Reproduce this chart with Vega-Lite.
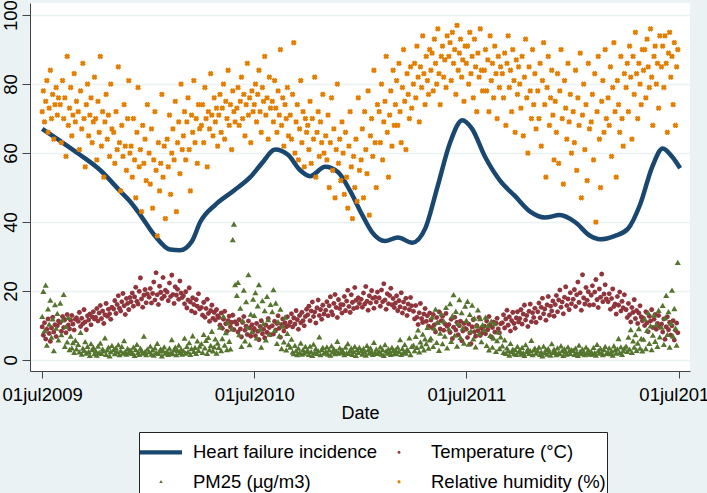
{
"$schema":"https://vega.github.io/schema/vega-lite/v6.json",
"width":660,"height":368,
"autosize":{"type":"none"},
"padding":{"left":30,"top":3,"right":17,"bottom":122},
"background":"#EAF2F3",
"config":{"font":"Liberation Sans","view":{"fill":"white","stroke":null},
 "legend":{"orient":"none","legendX":109,"legendY":429,"columns":2,"titleFontSize":10,"titlePadding":0,"padding":1,"clipHeight":18.5,
    "fillColor":"white","strokeColor":"#222","rowPadding":10.5,"columnPadding":0,"symbolSize":1764,"symbolStrokeWidth":0,"symbolOffset":0,"labelOffset":11,
    "labelFontSize":18.5,"labelColor":"#000","labelLimit":400}},
"datasets":{
"hf":[
{"d":"2009-07-01","v":67},{"d":"2009-08-01","v":63.5},{"d":"2009-09-04","v":59.5},{"d":"2009-10-09","v":55},{"d":"2009-11-12","v":49},{"d":"2009-11-29","v":46},{"d":"2009-12-17","v":42},{"d":"2010-01-11","v":36},{"d":"2010-02-06","v":32},{"d":"2010-02-23","v":31.8},{"d":"2010-03-16","v":34.5},{"d":"2010-03-30","v":40},{"d":"2010-04-25","v":45},{"d":"2010-05-26","v":49},{"d":"2010-06-24","v":53},{"d":"2010-07-14","v":57},{"d":"2010-08-06","v":61},{"d":"2010-08-28","v":59.5},{"d":"2010-09-18","v":55},{"d":"2010-10-05","v":53.3},{"d":"2010-10-31","v":56},{"d":"2010-11-22","v":54.5},{"d":"2010-12-13","v":49},{"d":"2011-01-03","v":42},{"d":"2011-01-20","v":37},{"d":"2011-02-11","v":34.5},{"d":"2011-03-05","v":35.5},{"d":"2011-03-30","v":34},{"d":"2011-04-21","v":38},{"d":"2011-05-12","v":50},{"d":"2011-06-03","v":63},{"d":"2011-06-24","v":69.5},{"d":"2011-07-11","v":67},{"d":"2011-08-02","v":59},{"d":"2011-08-28","v":52},{"d":"2011-09-23","v":47.5},{"d":"2011-10-19","v":43},{"d":"2011-11-13","v":41.3},{"d":"2011-12-09","v":42},{"d":"2012-01-04","v":40},{"d":"2012-01-30","v":36},{"d":"2012-02-16","v":35},{"d":"2012-03-13","v":36},{"d":"2012-04-04","v":38},{"d":"2012-04-25","v":45},{"d":"2012-05-16","v":56},{"d":"2012-06-03","v":61.3},{"d":"2012-06-19","v":59},{"d":"2012-07-03","v":55.6}
],
"obs":[
{"d":"2009-07-01","t":9.6,"p":12.5,"h":72},{"d":"2009-07-03","t":7.2,"p":19.8,"h":78},{"d":"2009-07-05","t":10.8,"p":8.4,"h":69},{"d":"2009-07-07","t":6.1,"p":21.6,"h":75},{"d":"2009-07-09","t":8.9,"p":4.2,"h":81},{"d":"2009-07-11","t":11.9,"p":14.7,"h":66},{"d":"2009-07-13","t":7.7,"p":10.3,"h":73},{"d":"2009-07-15","t":5.4,"p":17.2,"h":84},{"d":"2009-07-17","t":9.3,"p":6.5,"h":70},{"d":"2009-07-19","t":12.4,"p":11.8,"h":77},{"d":"2009-07-21","t":8.1,"p":2.6,"h":64},{"d":"2009-07-23","t":10.2,"p":15.9,"h":74},{"d":"2009-07-25","t":6.8,"p":9.1,"h":79},{"d":"2009-07-27","t":9.9,"p":13.4,"h":71},{"d":"2009-07-29","t":11.3,"p":5.7,"h":76},
{"d":"2009-08-01","t":10.9,"p":16.4,"h":74},{"d":"2009-08-03","t":8.3,"p":7.2,"h":63},{"d":"2009-08-05","t":12.6,"p":11.5,"h":81},{"d":"2009-08-07","t":9.4,"p":18.9,"h":70},{"d":"2009-08-09","t":11.7,"p":3.8,"h":76},{"d":"2009-08-11","t":7.9,"p":9.6,"h":59},{"d":"2009-08-13","t":13.2,"p":5.1,"h":88},{"d":"2009-08-15","t":10.1,"p":12.2,"h":68},{"d":"2009-08-17","t":9.0,"p":2.9,"h":73},{"d":"2009-08-19","t":11.5,"p":6.8,"h":79},{"d":"2009-08-21","t":12.9,"p":3.4,"h":65},{"d":"2009-08-23","t":10.4,"p":4.9,"h":71},{"d":"2009-08-25","t":8.7,"p":2.1,"h":83},{"d":"2009-08-27","t":11.8,"p":5.6,"h":69},{"d":"2009-08-29","t":12.2,"p":3.1,"h":75},
{"d":"2009-09-01","t":11.2,"p":4.4,"h":72},{"d":"2009-09-03","t":13.8,"p":2.2,"h":61},{"d":"2009-09-05","t":9.7,"p":7.9,"h":78},{"d":"2009-09-07","t":12.1,"p":1.6,"h":67},{"d":"2009-09-09","t":10.5,"p":3.3,"h":86},{"d":"2009-09-11","t":14.6,"p":2.7,"h":70},{"d":"2009-09-13","t":11.0,"p":5.2,"h":56},{"d":"2009-09-15","t":8.8,"p":1.9,"h":74},{"d":"2009-09-17","t":12.8,"p":3.8,"h":80},{"d":"2009-09-19","t":11.6,"p":2.4,"h":65},{"d":"2009-09-21","t":13.3,"p":1.2,"h":71},{"d":"2009-09-23","t":10.2,"p":4.6,"h":76},{"d":"2009-09-25","t":12.5,"p":2.9,"h":63},{"d":"2009-09-27","t":14.0,"p":3.5,"h":69},{"d":"2009-09-29","t":11.9,"p":1.7,"h":82},
{"d":"2009-10-01","t":12.4,"p":2.6,"h":70},{"d":"2009-10-03","t":14.9,"p":1.3,"h":58},{"d":"2009-10-05","t":11.3,"p":3.9,"h":75},{"d":"2009-10-07","t":13.6,"p":2.1,"h":66},{"d":"2009-10-09","t":15.8,"p":4.8,"h":88},{"d":"2009-10-11","t":12.0,"p":1.8,"h":62},{"d":"2009-10-13","t":14.2,"p":3.1,"h":72},{"d":"2009-10-15","t":10.6,"p":2.5,"h":53},{"d":"2009-10-17","t":13.1,"p":6.3,"h":69},{"d":"2009-10-19","t":16.4,"p":1.5,"h":77},{"d":"2009-10-21","t":12.7,"p":2.8,"h":64},{"d":"2009-10-23","t":14.7,"p":3.6,"h":71},{"d":"2009-10-25","t":13.4,"p":1.1,"h":59},{"d":"2009-10-27","t":11.8,"p":2.3,"h":80},{"d":"2009-10-29","t":15.3,"p":4.1,"h":67},
{"d":"2009-11-01","t":14.8,"p":2.9,"h":66},{"d":"2009-11-03","t":17.2,"p":1.7,"h":57},{"d":"2009-11-05","t":13.5,"p":3.4,"h":72},{"d":"2009-11-07","t":16.1,"p":2.2,"h":61},{"d":"2009-11-09","t":18.6,"p":4.3,"h":85},{"d":"2009-11-11","t":15.0,"p":1.4,"h":63},{"d":"2009-11-13","t":14.2,"p":2.6,"h":49},{"d":"2009-11-15","t":16.9,"p":3.8,"h":68},{"d":"2009-11-17","t":19.3,"p":1.9,"h":59},{"d":"2009-11-19","t":15.7,"p":5.5,"h":74},{"d":"2009-11-21","t":13.2,"p":2.4,"h":62},{"d":"2009-11-23","t":17.8,"p":1.6,"h":55},{"d":"2009-11-25","t":16.4,"p":3.2,"h":70},{"d":"2009-11-27","t":14.6,"p":2.0,"h":81},{"d":"2009-11-29","t":18.1,"p":2.8,"h":60},
{"d":"2009-12-01","t":16.9,"p":2.5,"h":62},{"d":"2009-12-03","t":19.4,"p":1.8,"h":53},{"d":"2009-12-05","t":15.6,"p":3.6,"h":70},{"d":"2009-12-07","t":18.3,"p":1.2,"h":58},{"d":"2009-12-09","t":21.1,"p":2.9,"h":47},{"d":"2009-12-11","t":17.0,"p":4.4,"h":66},{"d":"2009-12-13","t":16.2,"p":2.1,"h":79},{"d":"2009-12-15","t":19.9,"p":1.5,"h":56},{"d":"2009-12-17","t":23.8,"p":3.3,"h":61},{"d":"2009-12-19","t":17.7,"p":2.7,"h":43},{"d":"2009-12-21","t":15.3,"p":1.9,"h":68},{"d":"2009-12-23","t":18.8,"p":6.8,"h":57},{"d":"2009-12-25","t":20.4,"p":2.3,"h":64},{"d":"2009-12-27","t":16.6,"p":1.4,"h":52},{"d":"2009-12-29","t":19.1,"p":3.0,"h":74},
{"d":"2010-01-01","t":18.2,"p":2.2,"h":60},{"d":"2010-01-03","t":20.7,"p":3.9,"h":51},{"d":"2010-01-05","t":16.5,"p":1.6,"h":67},{"d":"2010-01-07","t":19.3,"p":2.8,"h":44},{"d":"2010-01-09","t":22.6,"p":1.3,"h":58},{"d":"2010-01-11","t":17.4,"p":3.4,"h":72},{"d":"2010-01-13","t":25.3,"p":2.0,"h":55},{"d":"2010-01-15","t":18.9,"p":4.7,"h":36},{"d":"2010-01-17","t":16.1,"p":1.8,"h":63},{"d":"2010-01-19","t":21.4,"p":2.5,"h":49},{"d":"2010-01-21","t":19.6,"p":3.1,"h":57},{"d":"2010-01-23","t":17.8,"p":1.1,"h":77},{"d":"2010-01-25","t":23.9,"p":2.6,"h":53},{"d":"2010-01-27","t":18.5,"p":3.7,"h":62},{"d":"2010-01-29","t":20.2,"p":1.9,"h":41},
{"d":"2010-02-01","t":19.7,"p":2.4,"h":64},{"d":"2010-02-03","t":17.2,"p":1.5,"h":56},{"d":"2010-02-05","t":22.3,"p":3.3,"h":71},{"d":"2010-02-07","t":18.4,"p":2.1,"h":48},{"d":"2010-02-09","t":24.6,"p":5.8,"h":60},{"d":"2010-02-11","t":19.0,"p":1.7,"h":67},{"d":"2010-02-13","t":16.4,"p":2.9,"h":58},{"d":"2010-02-15","t":21.2,"p":3.6,"h":75},{"d":"2010-02-17","t":18.8,"p":1.4,"h":43},{"d":"2010-02-19","t":20.5,"p":2.7,"h":63},{"d":"2010-02-21","t":17.6,"p":4.2,"h":69},{"d":"2010-02-23","t":22.9,"p":2.0,"h":54},{"d":"2010-02-25","t":19.4,"p":3.0,"h":80},{"d":"2010-02-27","t":18.1,"p":1.6,"h":61},
{"d":"2010-03-01","t":18.6,"p":2.6,"h":65},{"d":"2010-03-03","t":16.3,"p":6.2,"h":72},{"d":"2010-03-05","t":19.8,"p":1.9,"h":58},{"d":"2010-03-07","t":15.1,"p":3.8,"h":69},{"d":"2010-03-09","t":17.4,"p":2.3,"h":76},{"d":"2010-03-11","t":20.9,"p":4.9,"h":61},{"d":"2010-03-13","t":16.8,"p":1.5,"h":49},{"d":"2010-03-15","t":14.2,"p":3.2,"h":71},{"d":"2010-03-17","t":18.0,"p":6.9,"h":66},{"d":"2010-03-19","t":16.1,"p":2.4,"h":81},{"d":"2010-03-21","t":13.7,"p":3.5,"h":63},{"d":"2010-03-23","t":17.5,"p":1.8,"h":70},{"d":"2010-03-25","t":15.6,"p":5.4,"h":57},{"d":"2010-03-27","t":19.2,"p":2.7,"h":74},{"d":"2010-03-29","t":14.8,"p":3.9,"h":67},
{"d":"2010-04-01","t":15.2,"p":4.6,"h":68},{"d":"2010-04-03","t":13.0,"p":2.1,"h":74},{"d":"2010-04-05","t":16.7,"p":7.3,"h":63},{"d":"2010-04-07","t":12.4,"p":3.4,"h":79},{"d":"2010-04-09","t":14.9,"p":5.6,"h":70},{"d":"2010-04-11","t":17.6,"p":1.8,"h":56},{"d":"2010-04-13","t":13.5,"p":6.4,"h":72},{"d":"2010-04-15","t":11.2,"p":2.9,"h":67},{"d":"2010-04-17","t":14.3,"p":4.1,"h":83},{"d":"2010-04-19","t":15.9,"p":8.2,"h":71},{"d":"2010-04-21","t":12.1,"p":2.5,"h":65},{"d":"2010-04-23","t":13.8,"p":3.7,"h":76},{"d":"2010-04-25","t":11.6,"p":6.0,"h":69},{"d":"2010-04-27","t":14.6,"p":1.9,"h":73},{"d":"2010-04-29","t":12.8,"p":4.8,"h":62},
{"d":"2010-05-01","t":12.3,"p":3.5,"h":71},{"d":"2010-05-03","t":10.1,"p":9.4,"h":77},{"d":"2010-05-05","t":13.6,"p":2.6,"h":66},{"d":"2010-05-07","t":9.2,"p":6.1,"h":73},{"d":"2010-05-09","t":11.8,"p":12.6,"h":80},{"d":"2010-05-11","t":14.1,"p":4.2,"h":64},{"d":"2010-05-13","t":10.5,"p":7.8,"h":75},{"d":"2010-05-15","t":8.3,"p":2.9,"h":70},{"d":"2010-05-17","t":11.4,"p":10.7,"h":84},{"d":"2010-05-19","t":12.7,"p":5.3,"h":68},{"d":"2010-05-21","t":9.6,"p":3.1,"h":74},{"d":"2010-05-23","t":10.9,"p":8.9,"h":61},{"d":"2010-05-25","t":13.0,"p":34.8,"h":78},{"d":"2010-05-27","t":8.8,"p":39.3,"h":72},{"d":"2010-05-29","t":11.1,"p":21.7,"h":69},
{"d":"2010-06-01","t":10.4,"p":18.6,"h":73},{"d":"2010-06-03","t":8.1,"p":22.4,"h":79},{"d":"2010-06-05","t":11.7,"p":7.2,"h":68},{"d":"2010-06-07","t":9.0,"p":14.9,"h":75},{"d":"2010-06-09","t":6.7,"p":3.8,"h":82},{"d":"2010-06-11","t":10.9,"p":11.3,"h":70},{"d":"2010-06-13","t":12.6,"p":20.1,"h":77},{"d":"2010-06-15","t":8.6,"p":5.4,"h":65},{"d":"2010-06-17","t":9.8,"p":16.8,"h":74},{"d":"2010-06-19","t":7.4,"p":9.5,"h":86},{"d":"2010-06-21","t":11.3,"p":24.6,"h":71},{"d":"2010-06-23","t":9.3,"p":4.3,"h":76},{"d":"2010-06-25","t":6.9,"p":13.2,"h":63},{"d":"2010-06-27","t":10.2,"p":8.1,"h":78},{"d":"2010-06-29","t":8.4,"p":17.5,"h":72},
{"d":"2010-07-01","t":9.1,"p":12.8,"h":74},{"d":"2010-07-03","t":7.0,"p":19.4,"h":80},{"d":"2010-07-05","t":10.6,"p":6.3,"h":69},{"d":"2010-07-07","t":8.3,"p":15.6,"h":77},{"d":"2010-07-09","t":5.9,"p":21.7,"h":84},{"d":"2010-07-11","t":9.7,"p":8.8,"h":72},{"d":"2010-07-13","t":11.4,"p":3.6,"h":66},{"d":"2010-07-15","t":7.6,"p":17.1,"h":79},{"d":"2010-07-17","t":8.9,"p":10.4,"h":75},{"d":"2010-07-19","t":6.4,"p":14.2,"h":88},{"d":"2010-07-21","t":10.1,"p":5.7,"h":71},{"d":"2010-07-23","t":8.0,"p":18.3,"h":76},{"d":"2010-07-25","t":12.0,"p":11.6,"h":64},{"d":"2010-07-27","t":9.4,"p":7.4,"h":82},{"d":"2010-07-29","t":7.3,"p":16.0,"h":73},
{"d":"2010-08-01","t":9.9,"p":13.9,"h":75},{"d":"2010-08-03","t":7.5,"p":20.3,"h":69},{"d":"2010-08-05","t":11.2,"p":8.5,"h":81},{"d":"2010-08-07","t":8.7,"p":16.4,"h":73},{"d":"2010-08-09","t":10.6,"p":4.7,"h":66},{"d":"2010-08-11","t":12.8,"p":11.0,"h":78},{"d":"2010-08-13","t":9.2,"p":6.9,"h":71},{"d":"2010-08-15","t":6.6,"p":14.6,"h":90},{"d":"2010-08-17","t":10.3,"p":3.2,"h":68},{"d":"2010-08-19","t":11.9,"p":9.7,"h":76},{"d":"2010-08-21","t":8.4,"p":5.1,"h":62},{"d":"2010-08-23","t":10.8,"p":12.3,"h":74},{"d":"2010-08-25","t":9.6,"p":2.8,"h":70},{"d":"2010-08-27","t":12.5,"p":7.6,"h":79},{"d":"2010-08-29","t":10.0,"p":4.4,"h":65},
{"d":"2010-09-01","t":11.0,"p":3.6,"h":71},{"d":"2010-09-03","t":13.4,"p":5.9,"h":64},{"d":"2010-09-05","t":9.6,"p":2.2,"h":77},{"d":"2010-09-07","t":12.2,"p":1.7,"h":92},{"d":"2010-09-09","t":10.4,"p":4.1,"h":60},{"d":"2010-09-11","t":14.3,"p":2.6,"h":69},{"d":"2010-09-13","t":11.7,"p":1.4,"h":74},{"d":"2010-09-15","t":8.9,"p":3.3,"h":58},{"d":"2010-09-17","t":12.9,"p":2.0,"h":67},{"d":"2010-09-19","t":10.8,"p":4.8,"h":81},{"d":"2010-09-21","t":13.8,"p":1.6,"h":63},{"d":"2010-09-23","t":11.4,"p":2.9,"h":72},{"d":"2010-09-25","t":9.9,"p":1.9,"h":56},{"d":"2010-09-27","t":12.6,"p":3.8,"h":70},{"d":"2010-09-29","t":14.7,"p":2.4,"h":66},
{"d":"2010-10-01","t":13.1,"p":2.7,"h":68},{"d":"2010-10-03","t":15.6,"p":1.5,"h":61},{"d":"2010-10-05","t":11.4,"p":3.9,"h":75},{"d":"2010-10-07","t":14.2,"p":2.3,"h":57},{"d":"2010-10-09","t":16.8,"p":1.2,"h":70},{"d":"2010-10-11","t":12.6,"p":4.5,"h":64},{"d":"2010-10-13","t":13.9,"p":2.1,"h":82},{"d":"2010-10-15","t":10.7,"p":3.2,"h":53},{"d":"2010-10-17","t":15.1,"p":1.8,"h":66},{"d":"2010-10-19","t":17.4,"p":2.6,"h":72},{"d":"2010-10-21","t":12.9,"p":6.6,"h":59},{"d":"2010-10-23","t":14.6,"p":1.4,"h":69},{"d":"2010-10-25","t":11.8,"p":2.9,"h":63},{"d":"2010-10-27","t":15.9,"p":3.5,"h":77},{"d":"2010-10-29","t":13.3,"p":1.9,"h":60},
{"d":"2010-11-01","t":14.4,"p":2.4,"h":65},{"d":"2010-11-03","t":16.9,"p":3.7,"h":58},{"d":"2010-11-05","t":12.8,"p":1.6,"h":71},{"d":"2010-11-07","t":15.7,"p":2.8,"h":50},{"d":"2010-11-09","t":18.3,"p":1.3,"h":63},{"d":"2010-11-11","t":14.0,"p":4.0,"h":76},{"d":"2010-11-13","t":13.1,"p":2.2,"h":55},{"d":"2010-11-15","t":16.4,"p":3.1,"h":67},{"d":"2010-11-17","t":19.0,"p":1.7,"h":47},{"d":"2010-11-19","t":15.2,"p":2.5,"h":61},{"d":"2010-11-21","t":12.3,"p":5.3,"h":80},{"d":"2010-11-23","t":17.5,"p":1.9,"h":57},{"d":"2010-11-25","t":14.9,"p":3.4,"h":64},{"d":"2010-11-27","t":16.1,"p":2.0,"h":52},{"d":"2010-11-29","t":13.6,"p":2.9,"h":69},
{"d":"2010-12-01","t":16.0,"p":2.3,"h":60},{"d":"2010-12-03","t":18.4,"p":1.4,"h":48},{"d":"2010-12-05","t":14.3,"p":3.6,"h":66},{"d":"2010-12-07","t":17.1,"p":2.0,"h":53},{"d":"2010-12-09","t":20.2,"p":4.6,"h":44},{"d":"2010-12-11","t":15.5,"p":1.8,"h":62},{"d":"2010-12-13","t":13.8,"p":2.7,"h":72},{"d":"2010-12-15","t":18.9,"p":3.3,"h":56},{"d":"2010-12-17","t":16.7,"p":1.5,"h":41},{"d":"2010-12-19","t":14.9,"p":2.4,"h":59},{"d":"2010-12-21","t":21.0,"p":3.8,"h":50},{"d":"2010-12-23","t":17.3,"p":1.2,"h":64},{"d":"2010-12-25","t":15.2,"p":2.9,"h":46},{"d":"2010-12-27","t":18.0,"p":2.1,"h":76},{"d":"2010-12-29","t":16.4,"p":3.5,"h":55},
{"d":"2011-01-01","t":17.6,"p":2.6,"h":58},{"d":"2011-01-03","t":15.3,"p":1.6,"h":67},{"d":"2011-01-05","t":19.4,"p":3.2,"h":47},{"d":"2011-01-07","t":16.2,"p":2.2,"h":72},{"d":"2011-01-09","t":21.3,"p":1.3,"h":61},{"d":"2011-01-11","t":17.0,"p":4.1,"h":54},{"d":"2011-01-13","t":14.4,"p":2.8,"h":78},{"d":"2011-01-15","t":18.6,"p":1.9,"h":42},{"d":"2011-01-17","t":16.5,"p":3.4,"h":65},{"d":"2011-01-19","t":20.1,"p":2.4,"h":70},{"d":"2011-01-21","t":17.9,"p":1.5,"h":59},{"d":"2011-01-23","t":15.0,"p":5.0,"h":84},{"d":"2011-01-25","t":18.2,"p":2.0,"h":63},{"d":"2011-01-27","t":16.8,"p":3.0,"h":50},{"d":"2011-01-29","t":19.7,"p":1.8,"h":74},
{"d":"2011-02-01","t":18.0,"p":2.3,"h":72},{"d":"2011-02-03","t":15.6,"p":3.7,"h":63},{"d":"2011-02-05","t":20.3,"p":1.6,"h":80},{"d":"2011-02-07","t":16.9,"p":2.9,"h":58},{"d":"2011-02-09","t":22.1,"p":1.2,"h":69},{"d":"2011-02-11","t":17.4,"p":4.3,"h":75},{"d":"2011-02-13","t":14.7,"p":2.5,"h":88},{"d":"2011-02-15","t":19.2,"p":1.9,"h":66},{"d":"2011-02-17","t":16.3,"p":3.1,"h":53},{"d":"2011-02-19","t":18.7,"p":2.2,"h":71},{"d":"2011-02-21","t":20.8,"p":1.5,"h":78},{"d":"2011-02-23","t":16.0,"p":3.5,"h":62},{"d":"2011-02-25","t":17.8,"p":2.7,"h":84},{"d":"2011-02-27","t":15.2,"p":1.8,"h":68},
{"d":"2011-03-01","t":16.5,"p":2.9,"h":74},{"d":"2011-03-03","t":18.6,"p":1.7,"h":81},{"d":"2011-03-05","t":14.3,"p":3.6,"h":68},{"d":"2011-03-07","t":17.2,"p":2.4,"h":86},{"d":"2011-03-09","t":15.4,"p":5.8,"h":72},{"d":"2011-03-11","t":19.5,"p":1.5,"h":63},{"d":"2011-03-13","t":13.6,"p":3.2,"h":79},{"d":"2011-03-15","t":16.8,"p":2.1,"h":90},{"d":"2011-03-17","t":15.0,"p":4.4,"h":75},{"d":"2011-03-19","t":17.9,"p":1.9,"h":61},{"d":"2011-03-21","t":12.9,"p":3.0,"h":83},{"d":"2011-03-23","t":16.2,"p":2.6,"h":77},{"d":"2011-03-25","t":14.6,"p":6.3,"h":70},{"d":"2011-03-27","t":18.1,"p":1.4,"h":85},{"d":"2011-03-29","t":15.7,"p":3.8,"h":73},
{"d":"2011-04-01","t":14.1,"p":4.2,"h":80},{"d":"2011-04-03","t":11.9,"p":2.6,"h":86},{"d":"2011-04-05","t":15.8,"p":6.7,"h":76},{"d":"2011-04-07","t":12.4,"p":3.5,"h":91},{"d":"2011-04-09","t":10.3,"p":8.6,"h":82},{"d":"2011-04-11","t":13.7,"p":2.2,"h":69},{"d":"2011-04-13","t":16.4,"p":5.1,"h":85},{"d":"2011-04-15","t":12.0,"p":3.9,"h":79},{"d":"2011-04-17","t":10.9,"p":7.4,"h":94},{"d":"2011-04-19","t":13.3,"p":2.8,"h":83},{"d":"2011-04-21","t":14.9,"p":6.0,"h":74},{"d":"2011-04-23","t":11.2,"p":4.6,"h":88},{"d":"2011-04-25","t":12.8,"p":9.3,"h":81},{"d":"2011-04-27","t":9.8,"p":3.3,"h":77},{"d":"2011-04-29","t":13.6,"p":5.7,"h":90},
{"d":"2011-05-01","t":11.6,"p":6.2,"h":84},{"d":"2011-05-03","t":9.4,"p":12.4,"h":89},{"d":"2011-05-05","t":13.2,"p":3.8,"h":78},{"d":"2011-05-07","t":10.2,"p":9.1,"h":93},{"d":"2011-05-09","t":8.1,"p":14.6,"h":86},{"d":"2011-05-11","t":12.3,"p":5.0,"h":80},{"d":"2011-05-13","t":10.8,"p":10.8,"h":96},{"d":"2011-05-15","t":14.0,"p":2.7,"h":83},{"d":"2011-05-17","t":9.0,"p":7.7,"h":74},{"d":"2011-05-19","t":11.4,"p":13.3,"h":88},{"d":"2011-05-21","t":12.7,"p":4.6,"h":91},{"d":"2011-05-23","t":8.6,"p":11.2,"h":82},{"d":"2011-05-25","t":10.5,"p":6.8,"h":87},{"d":"2011-05-27","t":13.5,"p":15.1,"h":79},{"d":"2011-05-29","t":9.8,"p":3.4,"h":94},
{"d":"2011-06-01","t":10.3,"p":8.9,"h":88},{"d":"2011-06-03","t":8.0,"p":16.2,"h":92},{"d":"2011-06-05","t":11.8,"p":5.3,"h":81},{"d":"2011-06-07","t":6.2,"p":12.7,"h":95},{"d":"2011-06-09","t":9.5,"p":18.8,"h":86},{"d":"2011-06-11","t":12.4,"p":7.1,"h":90},{"d":"2011-06-13","t":8.7,"p":14.0,"h":77},{"d":"2011-06-15","t":10.9,"p":3.9,"h":97},{"d":"2011-06-17","t":7.3,"p":10.5,"h":84},{"d":"2011-06-19","t":9.9,"p":17.4,"h":89},{"d":"2011-06-21","t":11.2,"p":6.4,"h":93},{"d":"2011-06-23","t":5.6,"p":13.6,"h":82},{"d":"2011-06-25","t":8.4,"p":9.2,"h":87},{"d":"2011-06-27","t":10.6,"p":4.8,"h":75},{"d":"2011-06-29","t":9.1,"p":15.5,"h":91},
{"d":"2011-07-01","t":8.9,"p":11.4,"h":86},{"d":"2011-07-03","t":6.5,"p":16.9,"h":91},{"d":"2011-07-05","t":10.4,"p":4.5,"h":80},{"d":"2011-07-07","t":7.8,"p":13.1,"h":95},{"d":"2011-07-09","t":4.7,"p":8.3,"h":83},{"d":"2011-07-11","t":9.6,"p":15.8,"h":88},{"d":"2011-07-13","t":11.7,"p":6.0,"h":76},{"d":"2011-07-15","t":8.2,"p":12.0,"h":93},{"d":"2011-07-17","t":6.9,"p":3.7,"h":85},{"d":"2011-07-19","t":10.0,"p":9.8,"h":72},{"d":"2011-07-21","t":8.5,"p":14.4,"h":89},{"d":"2011-07-23","t":12.3,"p":7.5,"h":82},{"d":"2011-07-25","t":7.1,"p":11.9,"h":96},{"d":"2011-07-27","t":9.3,"p":5.2,"h":84},{"d":"2011-07-29","t":8.0,"p":10.1,"h":78},
{"d":"2011-08-01","t":9.8,"p":8.6,"h":84},{"d":"2011-08-03","t":7.6,"p":12.3,"h":90},{"d":"2011-08-05","t":11.3,"p":4.1,"h":78},{"d":"2011-08-07","t":8.8,"p":9.9,"h":87},{"d":"2011-08-09","t":12.6,"p":2.8,"h":72},{"d":"2011-08-11","t":10.2,"p":7.0,"h":94},{"d":"2011-08-13","t":6.7,"p":11.1,"h":81},{"d":"2011-08-15","t":9.4,"p":3.6,"h":86},{"d":"2011-08-17","t":11.0,"p":6.2,"h":76},{"d":"2011-08-19","t":8.1,"p":10.4,"h":91},{"d":"2011-08-21","t":10.7,"p":2.4,"h":83},{"d":"2011-08-23","t":12.1,"p":5.5,"h":70},{"d":"2011-08-25","t":9.0,"p":8.0,"h":88},{"d":"2011-08-27","t":7.9,"p":3.2,"h":79},{"d":"2011-08-29","t":10.5,"p":6.6,"h":85},
{"d":"2011-09-01","t":10.8,"p":4.0,"h":83},{"d":"2011-09-03","t":13.1,"p":2.1,"h":76},{"d":"2011-09-05","t":9.3,"p":5.7,"h":89},{"d":"2011-09-07","t":11.9,"p":1.8,"h":68},{"d":"2011-09-09","t":14.4,"p":3.4,"h":86},{"d":"2011-09-11","t":10.1,"p":2.6,"h":94},{"d":"2011-09-13","t":12.5,"p":1.3,"h":79},{"d":"2011-09-15","t":8.4,"p":4.7,"h":84},{"d":"2011-09-17","t":11.4,"p":2.3,"h":72},{"d":"2011-09-19","t":13.8,"p":3.0,"h":90},{"d":"2011-09-21","t":10.6,"p":1.7,"h":81},{"d":"2011-09-23","t":9.2,"p":2.9,"h":66},{"d":"2011-09-25","t":12.2,"p":1.5,"h":87},{"d":"2011-09-27","t":14.0,"p":3.8,"h":77},{"d":"2011-09-29","t":11.0,"p":2.2,"h":85},
{"d":"2011-10-01","t":12.0,"p":2.7,"h":80},{"d":"2011-10-03","t":14.6,"p":1.6,"h":73},{"d":"2011-10-05","t":10.4,"p":3.5,"h":88},{"d":"2011-10-07","t":13.3,"p":2.0,"h":65},{"d":"2011-10-09","t":15.9,"p":1.2,"h":82},{"d":"2011-10-11","t":11.6,"p":4.3,"h":93},{"d":"2011-10-13","t":12.9,"p":2.4,"h":76},{"d":"2011-10-15","t":9.7,"p":3.1,"h":60},{"d":"2011-10-17","t":14.1,"p":1.8,"h":85},{"d":"2011-10-19","t":16.2,"p":2.6,"h":78},{"d":"2011-10-21","t":11.1,"p":5.6,"h":70},{"d":"2011-10-23","t":13.7,"p":1.4,"h":90},{"d":"2011-10-25","t":12.3,"p":2.8,"h":74},{"d":"2011-10-27","t":15.0,"p":3.3,"h":83},{"d":"2011-10-29","t":10.9,"p":1.9,"h":67},
{"d":"2011-11-01","t":14.0,"p":2.5,"h":78},{"d":"2011-11-03","t":16.5,"p":3.6,"h":70},{"d":"2011-11-05","t":12.2,"p":1.5,"h":86},{"d":"2011-11-07","t":15.3,"p":2.2,"h":62},{"d":"2011-11-09","t":17.9,"p":1.1,"h":81},{"d":"2011-11-11","t":13.4,"p":3.9,"h":92},{"d":"2011-11-13","t":14.8,"p":2.0,"h":74},{"d":"2011-11-15","t":11.5,"p":2.9,"h":53},{"d":"2011-11-17","t":16.0,"p":1.6,"h":79},{"d":"2011-11-19","t":18.4,"p":3.2,"h":88},{"d":"2011-11-21","t":13.0,"p":2.4,"h":68},{"d":"2011-11-23","t":15.6,"p":1.3,"h":76},{"d":"2011-11-25","t":14.2,"p":4.6,"h":84},{"d":"2011-11-27","t":17.1,"p":2.1,"h":71},{"d":"2011-11-29","t":12.7,"p":3.0,"h":58},
{"d":"2011-12-01","t":16.1,"p":2.3,"h":75},{"d":"2011-12-03","t":18.7,"p":1.4,"h":66},{"d":"2011-12-05","t":14.0,"p":3.4,"h":83},{"d":"2011-12-07","t":17.4,"p":2.0,"h":57},{"d":"2011-12-09","t":20.3,"p":1.7,"h":78},{"d":"2011-12-11","t":15.3,"p":4.0,"h":90},{"d":"2011-12-13","t":16.8,"p":2.6,"h":70},{"d":"2011-12-15","t":13.4,"p":1.2,"h":51},{"d":"2011-12-17","t":18.2,"p":3.1,"h":81},{"d":"2011-12-19","t":21.2,"p":2.2,"h":73},{"d":"2011-12-21","t":15.8,"p":1.6,"h":64},{"d":"2011-12-23","t":17.7,"p":3.7,"h":86},{"d":"2011-12-25","t":14.6,"p":2.5,"h":69},{"d":"2011-12-27","t":19.5,"p":1.8,"h":77},{"d":"2011-12-29","t":16.3,"p":2.9,"h":60},
{"d":"2012-01-01","t":17.6,"p":2.7,"h":72},{"d":"2012-01-03","t":20.4,"p":1.5,"h":63},{"d":"2012-01-05","t":15.5,"p":3.3,"h":84},{"d":"2012-01-07","t":18.9,"p":2.1,"h":55},{"d":"2012-01-09","t":22.6,"p":1.2,"h":76},{"d":"2012-01-11","t":16.7,"p":4.2,"h":68},{"d":"2012-01-13","t":19.5,"p":2.4,"h":89},{"d":"2012-01-15","t":14.4,"p":1.7,"h":47},{"d":"2012-01-17","t":24.7,"p":3.0,"h":71},{"d":"2012-01-19","t":18.0,"p":2.2,"h":80},{"d":"2012-01-21","t":16.2,"p":1.4,"h":61},{"d":"2012-01-23","t":21.0,"p":3.6,"h":74},{"d":"2012-01-25","t":17.3,"p":2.0,"h":52},{"d":"2012-01-27","t":19.8,"p":2.8,"h":86},{"d":"2012-01-29","t":15.9,"p":1.6,"h":67},
{"d":"2012-02-01","t":18.8,"p":2.4,"h":69},{"d":"2012-02-03","t":21.5,"p":1.6,"h":77},{"d":"2012-02-05","t":16.0,"p":3.5,"h":58},{"d":"2012-02-07","t":19.7,"p":2.0,"h":83},{"d":"2012-02-09","t":23.3,"p":1.3,"h":40},{"d":"2012-02-11","t":17.5,"p":4.4,"h":72},{"d":"2012-02-13","t":15.2,"p":2.6,"h":88},{"d":"2012-02-15","t":20.6,"p":1.9,"h":64},{"d":"2012-02-17","t":18.2,"p":3.2,"h":50},{"d":"2012-02-19","t":24.9,"p":2.1,"h":75},{"d":"2012-02-21","t":16.9,"p":1.4,"h":81},{"d":"2012-02-23","t":19.1,"p":2.9,"h":66},{"d":"2012-02-25","t":21.8,"p":3.8,"h":90},{"d":"2012-02-27","t":17.7,"p":1.8,"h":70},
{"d":"2012-03-01","t":16.9,"p":2.2,"h":76},{"d":"2012-03-03","t":19.2,"p":3.4,"h":68},{"d":"2012-03-05","t":14.7,"p":1.7,"h":85},{"d":"2012-03-07","t":17.8,"p":2.5,"h":59},{"d":"2012-03-09","t":20.6,"p":1.3,"h":79},{"d":"2012-03-11","t":15.5,"p":4.0,"h":92},{"d":"2012-03-13","t":16.2,"p":2.8,"h":72},{"d":"2012-03-15","t":13.3,"p":1.9,"h":53},{"d":"2012-03-17","t":18.4,"p":3.1,"h":81},{"d":"2012-03-19","t":15.9,"p":6.1,"h":74},{"d":"2012-03-21","t":19.7,"p":2.0,"h":66},{"d":"2012-03-23","t":14.2,"p":3.7,"h":88},{"d":"2012-03-25","t":17.0,"p":1.5,"h":70},{"d":"2012-03-27","t":15.1,"p":2.6,"h":62},{"d":"2012-03-29","t":18.9,"p":3.3,"h":83},
{"d":"2012-04-01","t":14.6,"p":3.9,"h":79},{"d":"2012-04-03","t":12.3,"p":2.4,"h":86},{"d":"2012-04-05","t":16.4,"p":6.5,"h":72},{"d":"2012-04-07","t":13.1,"p":3.0,"h":91},{"d":"2012-04-09","t":11.0,"p":8.7,"h":82},{"d":"2012-04-11","t":15.2,"p":2.1,"h":64},{"d":"2012-04-13","t":13.8,"p":5.4,"h":88},{"d":"2012-04-15","t":17.5,"p":3.6,"h":77},{"d":"2012-04-17","t":12.0,"p":7.2,"h":95},{"d":"2012-04-19","t":14.3,"p":2.7,"h":83},{"d":"2012-04-21","t":10.6,"p":4.8,"h":70},{"d":"2012-04-23","t":13.6,"p":9.0,"h":86},{"d":"2012-04-25","t":15.7,"p":3.3,"h":80},{"d":"2012-04-27","t":12.5,"p":6.1,"h":74},{"d":"2012-04-29","t":11.4,"p":2.5,"h":90},
{"d":"2012-05-01","t":12.1,"p":5.9,"h":84},{"d":"2012-05-03","t":10.0,"p":11.8,"h":90},{"d":"2012-05-05","t":14.0,"p":3.2,"h":76},{"d":"2012-05-07","t":10.8,"p":8.5,"h":93},{"d":"2012-05-09","t":8.2,"p":13.6,"h":85},{"d":"2012-05-11","t":12.7,"p":4.7,"h":79},{"d":"2012-05-13","t":11.3,"p":9.8,"h":96},{"d":"2012-05-15","t":14.6,"p":2.9,"h":82},{"d":"2012-05-17","t":9.4,"p":7.1,"h":68},{"d":"2012-05-19","t":11.8,"p":12.9,"h":88},{"d":"2012-05-21","t":13.2,"p":5.3,"h":91},{"d":"2012-05-23","t":8.9,"p":10.2,"h":80},{"d":"2012-05-25","t":10.6,"p":3.8,"h":86},{"d":"2012-05-27","t":12.9,"p":14.3,"h":73},{"d":"2012-05-29","t":9.7,"p":6.6,"h":94},
{"d":"2012-06-01","t":10.4,"p":9.4,"h":85},{"d":"2012-06-03","t":8.1,"p":15.7,"h":91},{"d":"2012-06-05","t":11.9,"p":4.4,"h":79},{"d":"2012-06-07","t":6.0,"p":12.1,"h":94},{"d":"2012-06-09","t":9.6,"p":18.6,"h":86},{"d":"2012-06-11","t":12.5,"p":7.3,"h":66},{"d":"2012-06-13","t":8.8,"p":13.9,"h":89},{"d":"2012-06-15","t":10.9,"p":3.6,"h":95},{"d":"2012-06-17","t":7.2,"p":10.6,"h":82},{"d":"2012-06-19","t":9.9,"p":20.1,"h":88},{"d":"2012-06-21","t":11.4,"p":6.8,"h":74},{"d":"2012-06-23","t":5.8,"p":14.8,"h":92},{"d":"2012-06-25","t":8.6,"p":9.1,"h":68},{"d":"2012-06-27","t":10.7,"p":4.2,"h":85},{"d":"2012-06-29","t":7.9,"p":28.2,"h":90}
]
},
"layer":[
{"data":{"name":"hf"},
 "mark":{"type":"line","interpolate":"monotone","strokeWidth":4.5,"color":"#1A476F"},
 "encoding":{
  "x":{"field":"d","type":"temporal","scale":{"type":"utc","domain":[{"year":2009,"month":6,"date":10,"utc":true},{"year":2012,"month":7,"date":20,"utc":true}]},
   "axis":{"values":[{"year":2009,"month":7,"date":1,"utc":true},{"year":2010,"month":7,"date":1,"utc":true},{"year":2011,"month":7,"date":1,"utc":true},{"year":2012,"month":7,"date":1,"utc":true}],
    "labelExpr":"utcFormat(datum.value,'%d')+lower(utcFormat(datum.value,'%b'))+utcFormat(datum.value,'%Y')",
    "grid":false,"domainColor":"#444","tickColor":"#444","tickSize":7,"labelFontSize":18.5,"labelColor":"#000","labelPadding":7,"labelFlush":false,"labelOverlap":false,
    "title":"Date","titleFontSize":18,"titleFontWeight":"normal","titleColor":"#000","titlePadding":1}},
  "y":{"field":"v","type":"quantitative","scale":{"domain":[-3.2,103.5],"nice":false,"zero":false},
   "axis":{"values":[0,20,40,60,80,100],"title":null,"labelAngle":-90,"labelFontSize":18.5,"labelColor":"#000","labelPadding":2,"tickSize":8,"tickColor":"#444","domainColor":"#444","grid":true,"gridColor":"#EAF2F3","gridWidth":1.5}}
 }},
{"data":{"name":"obs"},
 "transform":[{"fold":["t","p","h"],"as":["k","v"]}],
 "mark":{"type":"point","filled":true,"opacity":1,"size":5184},
 "encoding":{
  "x":{"field":"d","type":"temporal"},
  "y":{"field":"v","type":"quantitative"},
  "order":{"field":"k","sort":"descending"},
  "color":{"field":"k","type":"nominal",
   "scale":{"domain":["hf","p","t","h"],"range":["#1A476F","#55752F","#90353B","#E37E00"]},
   "legend":{"title":" ",
    "labelExpr":"datum.value==='hf'?'Heart failure incidence':datum.value==='t'?'Temperature (°C)':datum.value==='p'?'PM25 (µg/m3)':'Relative humidity (%)'"}},
  "shape":{"field":"k","type":"nominal",
   "scale":{"domain":["hf","p","t","h"],"range":[
    "M-1,-0.107L1,-0.107L1,0.107L-1,0.107Z",
    "M0,-0.085L0.085,0.062L-0.085,0.062Z",
    "M0.07,0L0.05,0.05L0,0.07L-0.05,0.05L-0.07,0L-0.05,-0.05L0,-0.07L0.05,-0.05Z",
    "M-0.08,-0.028L-0.028,-0.08L0,-0.052L0.028,-0.08L0.08,-0.028L0.052,0L0.08,0.028L0.028,0.08L0,0.052L-0.028,0.08L-0.08,0.028L-0.052,0Z"]},
   "legend":{"title":" ",
    "labelExpr":"datum.value==='hf'?'Heart failure incidence':datum.value==='t'?'Temperature (°C)':datum.value==='p'?'PM25 (µg/m3)':'Relative humidity (%)'"}}
 }}
]
}
